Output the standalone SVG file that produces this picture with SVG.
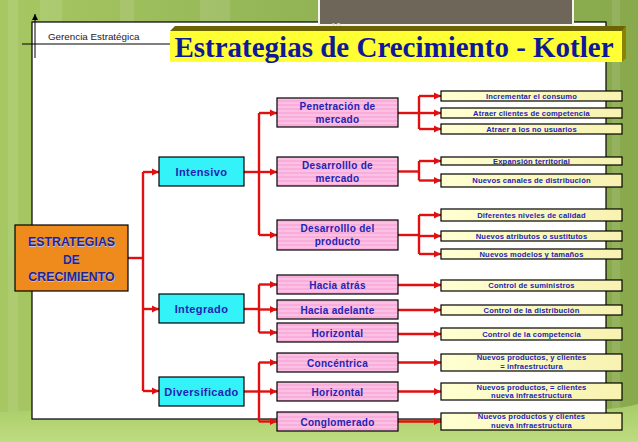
<svg xmlns="http://www.w3.org/2000/svg" width="638" height="442" viewBox="0 0 638 442">
<defs>
<linearGradient id="bg" x1="0" y1="0" x2="1" y2="0">
<stop offset="0" stop-color="#a6c762"/>
<stop offset="0.5" stop-color="#92b354"/>
<stop offset="1" stop-color="#88aa4c"/>
</linearGradient>
<linearGradient id="ground" x1="0" y1="0" x2="0" y2="1">
<stop offset="0" stop-color="#a8cc68"/>
<stop offset="1" stop-color="#bedc80"/>
</linearGradient>
<linearGradient id="yel" x1="0" y1="0" x2="1" y2="0">
<stop offset="0" stop-color="#ffffd2"/>
<stop offset="1" stop-color="#f7f2b0"/>
</linearGradient>
<pattern id="pinkstripe" width="4" height="4" patternUnits="userSpaceOnUse">
<rect width="4" height="4" fill="#fbc0e3"/>
<rect width="4" height="2" fill="#f8addb"/>
</pattern>
<marker id="ah" viewBox="0 0 8 8" refX="8" refY="4" markerWidth="7.5" markerHeight="7.5" markerUnits="userSpaceOnUse" orient="auto">
<path d="M0,0 L8,4 L0,8 z" fill="#e01010"/>
</marker>
<marker id="ahk" viewBox="0 0 8 8" refX="8" refY="4" markerWidth="6" markerHeight="6" markerUnits="userSpaceOnUse" orient="auto">
<path d="M0,0 L8,4 L0,8 z" fill="#000"/>
</marker>
</defs>
<style>
.l1{fill:url(#bg)}
.box{stroke:#000;stroke-width:1.2}
.cyan{fill:#33f2f8}
.pink{fill:url(#pinkstripe)}
.yel{fill:url(#yel)}
.t{font-family:"Liberation Sans",Arial,sans-serif;font-weight:bold;fill:#2323b4;text-anchor:middle}
.tc{font-size:11px;letter-spacing:0.4px}
.tp{font-size:10px;letter-spacing:0.3px}
.ty{font-size:7.6px;letter-spacing:0.15px}
.conn path{fill:none;stroke:#e01010;stroke-width:2.4}
</style>

<!-- background -->
<rect x="0" y="0" width="638" height="442" class="l1"/>
<g opacity="0.1" fill="#ffffff">
<rect x="8" y="0" width="10" height="442"/>
<rect x="40" y="0" width="22" height="30"/>
<rect x="120" y="0" width="14" height="30"/>
<rect x="200" y="0" width="30" height="30"/>
<rect x="612" y="0" width="8" height="442"/>
</g>
<path d="M0,412 Q200,400 400,408 T638,404 L638,442 L0,442 z" fill="url(#ground)"/>

<!-- white panel -->
<rect x="32" y="22" width="574" height="397" fill="#ffffff" stroke="#000" stroke-width="1.2"/>

<!-- slide number placeholder -->
<rect x="319" y="-2" width="254" height="27" fill="#6e6658" stroke="#f4f4ee" stroke-width="2"/>
<text x="331" y="29" font-family="Liberation Sans, Arial, sans-serif" font-size="9" fill="#d8d4c8">10</text>

<!-- header lines -->
<line x1="22" y1="44" x2="172" y2="44" stroke="#000" stroke-width="1"/>
<line x1="35" y1="58" x2="35" y2="14" stroke="#000" stroke-width="1" marker-end="url(#ahk)"/>
<text x="48" y="40" font-family="Liberation Sans, Arial, sans-serif" font-size="9.8" fill="#1a1a1a">Gerencia Estratégica</text>

<!-- title banner -->
<g id="title">
<polygon points="170,31 175,26 626,26 622,31" fill="#6b6400"/>
<polygon points="622,31 626,26 626,58 622,62" fill="#8a8200"/>
<rect x="170" y="31" width="452" height="31" fill="#ffff33"/>
<text x="394" y="57" text-anchor="middle" font-family="Liberation Serif, Times New Roman, serif" font-weight="bold" font-size="29" fill="#10189a">Estrategias de Crecimiento - Kotler</text>
</g>

<!-- connectors -->
<g id="connectors" class="conn">
<path d="M128,258 H143"/>
<path d="M143,172 V391"/>
<path d="M143,172 H159" marker-end="url(#ah)"/>
<path d="M143,309 H159" marker-end="url(#ah)"/>
<path d="M143,391 H159" marker-end="url(#ah)"/>

<path d="M244,172 H259"/>
<path d="M259,113 V235"/>
<path d="M259,113 H277" marker-end="url(#ah)"/>
<path d="M259,172 H277" marker-end="url(#ah)"/>
<path d="M259,235 H277" marker-end="url(#ah)"/>

<path d="M244,309 H259"/>
<path d="M259,284.5 V332.5"/>
<path d="M259,284.5 H277" marker-end="url(#ah)"/>
<path d="M259,309.5 H277" marker-end="url(#ah)"/>
<path d="M259,332.5 H277" marker-end="url(#ah)"/>

<path d="M244,391.5 H259"/>
<path d="M259,362.5 V421.5"/>
<path d="M259,362.5 H277" marker-end="url(#ah)"/>
<path d="M259,391.5 H277" marker-end="url(#ah)"/>
<path d="M259,421.5 H277" marker-end="url(#ah)"/>

<path d="M398,113 H419"/>
<path d="M419,96 V129"/>
<path d="M419,96 H441" marker-end="url(#ah)"/>
<path d="M419,113 H441" marker-end="url(#ah)"/>
<path d="M419,129 H441" marker-end="url(#ah)"/>

<path d="M398,171.5 H419"/>
<path d="M419,161 V180.5"/>
<path d="M419,161 H441" marker-end="url(#ah)"/>
<path d="M419,180.5 H441" marker-end="url(#ah)"/>

<path d="M398,235 H419"/>
<path d="M419,215 V254"/>
<path d="M419,215 H441" marker-end="url(#ah)"/>
<path d="M419,236 H441" marker-end="url(#ah)"/>
<path d="M419,254 H441" marker-end="url(#ah)"/>

<path d="M398,285 H441" marker-end="url(#ah)"/>
<path d="M398,310 H441" marker-end="url(#ah)"/>
<path d="M398,334 H441" marker-end="url(#ah)"/>
<path d="M398,362.5 H441" marker-end="url(#ah)"/>
<path d="M398,391.5 H441" marker-end="url(#ah)"/>
<path d="M398,421.5 H441" marker-end="url(#ah)"/>
</g>

<!-- root -->
<g id="root">
<rect x="15" y="225" width="113" height="66" fill="#ef8a1c" class="box"/>
<g font-family="Liberation Sans, Arial, sans-serif" font-weight="bold" font-size="12.4" text-anchor="middle">
<g fill="#b8bcf0" transform="translate(0.8,0.8)">
<text x="71.5" y="246">ESTRATEGIAS</text>
<text x="71.5" y="263.5">DE</text>
<text x="71.5" y="281">CRECIMIENTO</text>
</g>
<g fill="#22238c">
<text x="71.5" y="246">ESTRATEGIAS</text>
<text x="71.5" y="263.5">DE</text>
<text x="71.5" y="281">CRECIMIENTO</text>
</g>
</g>
</g>

<!-- level 1 -->
<g id="intensivo"><rect x="159" y="157" width="85" height="29" class="box cyan"/><text x="201.5" y="175.5" class="t tc">Intensivo</text></g>
<g id="integrado"><rect x="159" y="294" width="85" height="29" class="box cyan"/><text x="201.5" y="312.5" class="t tc">Integrado</text></g>
<g id="diversificado"><rect x="159" y="377" width="85" height="29" class="box cyan"/><text x="201.5" y="395.5" class="t tc">Diversificado</text></g>

<!-- level 2 -->
<g id="penetracion"><rect x="277" y="98" width="121" height="29" class="box pink"/><text x="337.5" y="109.5" class="t tp">Penetración de</text><text x="337.5" y="122.5" class="t tp">mercado</text></g>
<g id="desmercado"><rect x="277" y="157" width="121" height="29" class="box pink"/><text x="337.5" y="168.5" class="t tp">Desarrolllo de</text><text x="337.5" y="181.5" class="t tp">mercado</text></g>
<g id="desproducto"><rect x="277" y="220" width="121" height="30" class="box pink"/><text x="337.5" y="232" class="t tp">Desarrolllo del</text><text x="337.5" y="245" class="t tp">producto</text></g>
<g id="haciaatras"><rect x="277" y="275" width="121" height="19" class="box pink"/><text x="337.5" y="288.5" class="t tp">Hacia atrás</text></g>
<g id="haciaadelante"><rect x="277" y="300" width="121" height="19" class="box pink"/><text x="337.5" y="313.5" class="t tp">Hacia adelante</text></g>
<g id="horizontal1"><rect x="277" y="323" width="121" height="19" class="box pink"/><text x="337.5" y="336.5" class="t tp">Horizontal</text></g>
<g id="concentrica"><rect x="277" y="353" width="121" height="19" class="box pink"/><text x="337.5" y="366.5" class="t tp">Concéntrica</text></g>
<g id="horizontal2"><rect x="277" y="382" width="121" height="19" class="box pink"/><text x="337.5" y="395.5" class="t tp">Horizontal</text></g>
<g id="conglomerado"><rect x="277" y="412" width="121" height="19" class="box pink"/><text x="337.5" y="425.5" class="t tp">Conglomerado</text></g>

<!-- level 3 -->
<g id="y1"><rect x="441" y="91" width="181" height="10" class="box yel"/><text x="531.5" y="98.8" class="t ty">Incrementar el consumo</text></g>
<g id="y2"><rect x="441" y="108" width="181" height="10" class="box yel"/><text x="531.5" y="115.8" class="t ty">Atraer clientes de competencia</text></g>
<g id="y3"><rect x="441" y="124" width="181" height="10" class="box yel"/><text x="531.5" y="131.8" class="t ty">Atraer a los no usuarios</text></g>
<g id="y4"><rect x="441" y="157" width="181" height="8" class="box yel"/><text x="531.5" y="163.5" class="t ty">Expansión territorial</text></g>
<g id="y5"><rect x="441" y="174" width="181" height="13" class="box yel"/><text x="531.5" y="183.3" class="t ty">Nuevos canales de distribución</text></g>
<g id="y6"><rect x="441" y="209" width="181" height="12" class="box yel"/><text x="531.5" y="217.8" class="t ty">Diferentes niveles de calidad</text></g>
<g id="y7"><rect x="441" y="231" width="181" height="10" class="box yel"/><text x="531.5" y="238.8" class="t ty">Nuevos atributos o sustitutos</text></g>
<g id="y8"><rect x="441" y="249" width="181" height="10" class="box yel"/><text x="531.5" y="256.8" class="t ty">Nuevos modelos y tamaños</text></g>
<g id="y9"><rect x="441" y="280" width="181" height="11" class="box yel"/><text x="531.5" y="288.3" class="t ty">Control de suministros</text></g>
<g id="y10"><rect x="441" y="305" width="181" height="10" class="box yel"/><text x="531.5" y="312.8" class="t ty">Control de la distribución</text></g>
<g id="y11"><rect x="441" y="328" width="181" height="12" class="box yel"/><text x="531.5" y="336.8" class="t ty">Control de la competencia</text></g>
<g id="y12"><rect x="441" y="354" width="181" height="17" class="box yel"/><text x="531.5" y="360" class="t ty">Nuevos productos, y clientes</text><text x="531.5" y="368.5" class="t ty">= infraestructura</text></g>
<g id="y13"><rect x="441" y="383" width="181" height="17" class="box yel"/><text x="531.5" y="389.5" class="t ty">Nuevos productos, = clientes</text><text x="531.5" y="398" class="t ty">nueva infraestructura</text></g>
<g id="y14"><rect x="441" y="413" width="181" height="17" class="box yel"/><text x="531.5" y="419" class="t ty">Nuevos productos y clientes</text><text x="531.5" y="427.5" class="t ty">nueva infraestructura</text></g>
</svg>
